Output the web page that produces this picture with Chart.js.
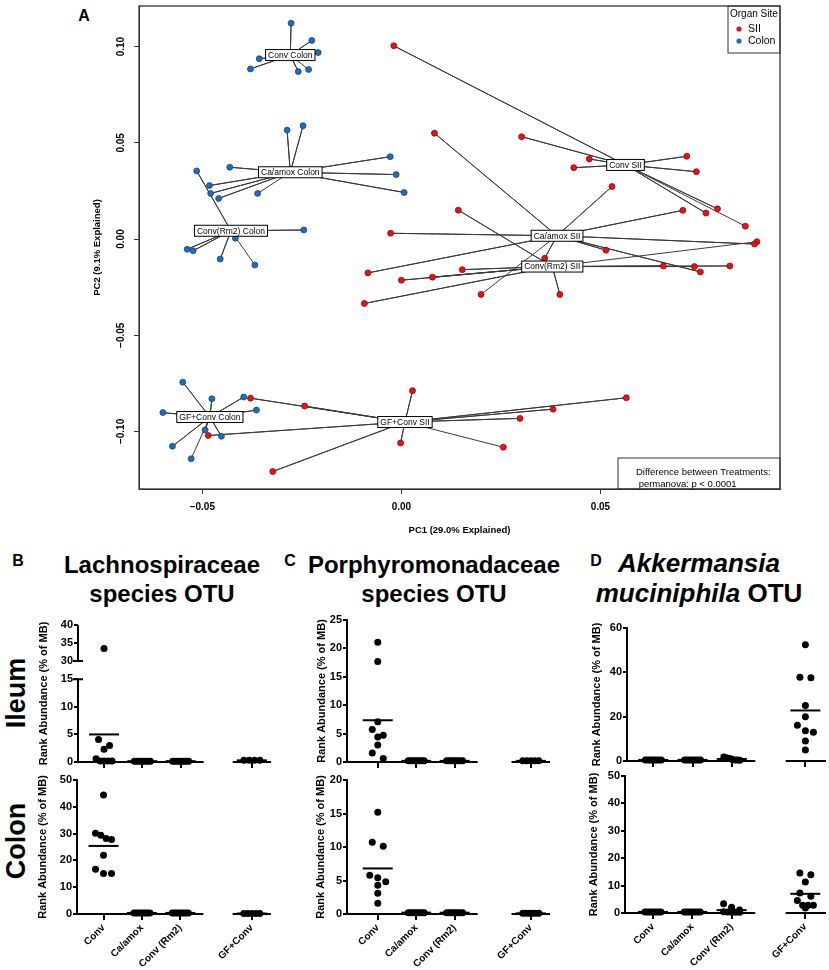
<!DOCTYPE html>
<html>
<head>
<meta charset="utf-8">
<script src="https://cdn.jsdelivr.net/npm/chart.js@4.4.1/dist/chart.umd.min.js"></script>
<style>
  body { margin: 0; background: #fff; }
  #wrap { position: relative; width: 829px; height: 970px; overflow: hidden; font-family: "Liberation Sans", Arial, sans-serif; color: #000; }
  canvas { position: absolute; }
  .ltr { position: absolute; font-weight: bold; font-size: 16px; line-height: 1; transform: translate(-50%, -50%); }
  .ttl { position: absolute; transform: translateX(-50%); text-align: center; font-weight: bold; white-space: nowrap; }
  .rot { position: absolute; font-weight: bold; font-size: 27px; line-height: 1; white-space: nowrap; transform: translate(-50%, -50%) rotate(-90deg); }
</style>
</head>
<body>
<div id="wrap">
  <div class="ltr" style="left:84px;top:16px">A</div>
  <div class="ltr" style="left:18px;top:561px">B</div>
  <div class="ltr" style="left:290px;top:561px">C</div>
  <div class="ltr" style="left:596px;top:561px">D</div>
  <div class="ttl" style="left:162px;top:550px;font-size:24px;line-height:29px">Lachnospiraceae<br>species OTU</div>
  <div class="ttl" style="left:434px;top:550px;font-size:24px;line-height:29px">Porphyromonadaceae<br>species OTU</div>
  <div class="ttl" style="left:699px;top:548px;font-size:26px;line-height:30px"><i>Akkermansia</i><br><i>muciniphila</i> OTU</div>
  <div class="rot" style="left:16px;top:693px">Ileum</div>
  <div class="rot" style="left:16px;top:841px">Colon</div>
</div>
<script>
// ---------- panel A: PCoA coordinates ----------
const pcaGroups = ['Conv Colon', 'Ca/amox Colon', 'Conv(Rm2) Colon', 'GF+Conv Colon',
                   'Conv SII', 'Ca/amox SII', 'Conv(Rm2) SII', 'GF+Conv SII'];
const pcaSite = ['Colon', 'Colon', 'Colon', 'Colon', 'SII', 'SII', 'SII', 'SII'];
const centroidX = [-0.0279, -0.0279, -0.0428, -0.0481, 0.0563, 0.0391, 0.0379, 0.0009];
const centroidY = [0.0956, 0.0347, 0.0043, -0.0925, 0.0385, 0.0017, -0.0143, -0.0951];

const convColon = [[-0.0277, 0.1122], [-0.0225, 0.1032], [-0.0209, 0.0969], [-0.0357, 0.0937],
                   [-0.0379, 0.0884], [-0.0259, 0.0870], [-0.0233, 0.0881]];
const caamoxColon = [[-0.0287, 0.0566], [-0.0247, 0.0589], [-0.0028, 0.0428], [-0.0013, 0.0335],
                     [0.0007, 0.0242], [-0.0431, 0.0373], [-0.0482, 0.0278], [-0.0479, 0.0237],
                     [-0.0459, 0.0211], [-0.0361, 0.0237]];
const rm2Colon = [[-0.0514, 0.0354], [-0.0245, 0.0047], [-0.0417, 0.0004], [-0.0538, -0.0053],
                  [-0.0523, -0.0061], [-0.0455, -0.0104], [-0.0368, -0.0135]];
const gfColon = [[-0.0549, -0.0744], [-0.0476, -0.0830], [-0.0396, -0.0821], [-0.0364, -0.0889],
                 [-0.0599, -0.0902], [-0.0493, -0.0992], [-0.0452, -0.1025], [-0.0575, -0.1077],
                 [-0.0528, -0.1142]];
const convSII = [[-0.0019, 0.1004], [0.0302, 0.0532], [0.0472, 0.0416], [0.0433, 0.0371],
                 [0.0717, 0.0430], [0.0741, 0.0350], [0.0794, 0.0157], [0.0765, 0.0135],
                 [0.0864, 0.0067]];
const caamoxSII = [[0.0083, 0.0550], [0.0529, 0.0273], [0.0707, 0.0149], [0.0887, -0.0026],
                   [-0.0027, 0.0030], [-0.0084, -0.0176], [0.0514, -0.0058], [0.0751, -0.0171],
                   [0.0360, -0.0100], [0.0200, -0.0288]];
const rm2SII = [[0.0143, 0.0150], [0.0153, -0.0159], [0.0078, -0.0198], [0.0000, -0.0214],
                [-0.0093, -0.0335], [0.0398, -0.0288], [0.0658, -0.0140], [0.0736, -0.0143],
                [0.0825, -0.0140], [0.0893, -0.0014]];
const gfSII = [[-0.0379, -0.0827], [-0.0243, -0.0868], [-0.0485, -0.1021], [-0.0323, -0.1208],
               [0.0028, -0.0788], [-0.0002, -0.1060], [0.0565, -0.0825], [0.0381, -0.0884],
               [0.0298, -0.0932], [0.0256, -0.1082]];
const pcaPoints = [convColon, caamoxColon, rm2Colon, gfColon, convSII, caamoxSII, rm2SII, gfSII];
const pcaXTicks = [-0.05, 0, 0.05];
const pcaYTicks = [-0.10, -0.05, 0, 0.05, 0.10];

// ---------- panels B-D: rank abundance (% of MB) ----------
const categories = ['Conv', 'Ca/amox', 'Conv (Rm2)', 'GF+Conv'];

const lachIleum = [[33.5, 4.1, 3.0, 2.3, 0.6, 0.2, 0.2, 0.2, 0.2],
                   [0.15, 0.15, 0.15, 0.15, 0.15, 0.15, 0.15, 0.15],
                   [0.15, 0.15, 0.15, 0.15, 0.15, 0.15, 0.15, 0.15],
                   [0.3, 0.3, 0.3, 0.3]];
const lachIleumMean = [5.0, 0.15, 0.15, 0.3];
const lachIleumTicks = [0, 5, 10, 15, 30, 35, 40];

const lachColon = [[44.4, 30.1, 29.4, 28.2, 27.8, 21.9, 16.7, 15.1, 15.1],
                   [0.4, 0.4, 0.4, 0.4, 0.4, 0.4, 0.4, 0.4],
                   [0.4, 0.4, 0.4, 0.4, 0.4, 0.4, 0.4, 0.4],
                   [0.2, 0.2, 0.2, 0.2, 0.2]];
const lachColonMean = [25.4, 0.4, 0.4, 0.2];
const lachColonTicks = [0, 10, 20, 30, 40, 50];

const porIleum = [[21.1, 17.7, 7.1, 5.7, 4.7, 4.4, 3.0, 1.6, 0.6],
                  [0.2, 0.2, 0.2, 0.2, 0.2, 0.2, 0.2, 0.2],
                  [0.2, 0.2, 0.2, 0.2, 0.2, 0.2, 0.2, 0.2],
                  [0.2, 0.2, 0.2, 0.2, 0.2]];
const porIleumMean = [7.35, 0.2, 0.2, 0.2];
const porIleumTicks = [0, 5, 10, 15, 20, 25];

const porColon = [[15.2, 10.7, 10.1, 5.8, 5.4, 4.8, 4.3, 3.1, 1.6],
                  [0.2, 0.2, 0.2, 0.2, 0.2, 0.2, 0.2, 0.2],
                  [0.2, 0.2, 0.2, 0.2, 0.2, 0.2, 0.2, 0.2],
                  [0.1, 0.1, 0.1, 0.1, 0.1, 0.1]];
const porColonMean = [6.8, 0.2, 0.2, 0.1];
const porColonTicks = [0, 5, 10, 15, 20];

const akkIleum = [[0.5, 0.5, 0.5, 0.5, 0.5, 0.5, 0.5, 0.5],
                  [0.5, 0.5, 0.5, 0.5, 0.5, 0.5, 0.5, 0.5],
                  [1.8, 1.5, 1.2, 1.0, 0.6, 0.4, 0.4, 0.3],
                  [52.4, 37.8, 37.6, 25.0, 20.0, 16.1, 13.6, 13.0, 9.0, 5.0]];
const akkIleumMean = [0.5, 0.5, 0.9, 22.8];
const akkIleumTicks = [0, 20, 40, 60];

const akkColon = [[0.4, 0.4, 0.4, 0.4, 0.4, 0.4, 0.4, 0.4],
                  [0.4, 0.4, 0.4, 0.4, 0.4, 0.4, 0.4, 0.4],
                  [3.4, 2.1, 1.1, 0.5, 0.4, 0.3, 0.3, 0.3],
                  [14.6, 14.0, 11.3, 7.3, 6.1, 4.6, 2.8, 2.8, 2.8, 1.8]];
const akkColonMean = [0.4, 0.4, 1.05, 7.0];
const akkColonTicks = [0, 10, 20, 30, 40, 50];

// axis break for the Lachnospiraceae ileum plot (15 -> 30)
const BRK = { low: 15, high: 30, d1: 0.6036, d2: 0.7372 };

Chart.defaults.font.family = '"Liberation Sans", Arial, sans-serif';
Chart.defaults.color = '#000';

class BrokenLinear extends Chart.LinearScale {
  getPixelForValue(value) {
    if (value === null || value === undefined || isNaN(value)) return NaN;
    let dec;
    if (value <= BRK.low) dec = (value - this.min) / (BRK.low - this.min) * BRK.d1;
    else if (value >= BRK.high) dec = BRK.d2 + (value - BRK.high) / (this.max - BRK.high) * (1 - BRK.d2);
    else dec = BRK.d1 + (value - BRK.low) / (BRK.high - BRK.low) * (BRK.d2 - BRK.d1);
    return this.getPixelForDecimal(dec);
  }
}
BrokenLinear.id = 'brokenLinear';
BrokenLinear.defaults = Chart.LinearScale.defaults;
Chart.register(BrokenLinear);

function addCanvas(left, top, w, h) {
  const c = document.createElement('canvas');
  c.width = Math.round(w);
  c.height = Math.round(h);
  c.style.left = Math.round(left) + 'px';
  c.style.top = Math.round(top) + 'px';
  document.getElementById('wrap').appendChild(c);
  return c;
}

// ---------- panel A ----------
const RED = '#e3121b', BLUE = '#1f6db6';

function drawPCA() {
  const canvas = addCanvas(0, 0, 829, 545);
  const datasets = [];
  pcaPoints.forEach((pts, g) => {
    const colon = pcaSite[g] === 'Colon';
    datasets.push({
      data: pts.map(p => ({ x: p[0], y: p[1] })),
      backgroundColor: colon ? BLUE : RED,
      borderColor: colon ? '#0f3f70' : '#8a0000',
      borderWidth: 0.7, pointRadius: 3, clip: false, order: 0
    });
    const spider = [];
    pts.forEach(p => {
      spider.push({ x: centroidX[g], y: centroidY[g] });
      spider.push({ x: p[0], y: p[1] });
    });
    datasets.push({
      data: spider, showLine: true, pointRadius: 0, borderColor: '#3a3a3a',
      borderWidth: 1, borderJoinStyle: 'round', tension: 0, order: 1
    });
  });

  const pcaDecor = {
    id: 'pcaDecor',
    afterDatasetsDraw(chart) {
      const { ctx, scales: { x, y } } = chart;
      ctx.save();
      ctx.font = '8.5px "Liberation Sans", Arial, sans-serif';
      ctx.textAlign = 'center';
      ctx.textBaseline = 'middle';
      pcaGroups.forEach((name, g) => {
        const px = x.getPixelForValue(centroidX[g]);
        const py = y.getPixelForValue(centroidY[g]);
        const w = ctx.measureText(name).width + 5;
        const h = 11;
        ctx.fillStyle = '#fff';
        ctx.fillRect(px - w / 2, py - h / 2, w, h);
        ctx.strokeStyle = '#000';
        ctx.lineWidth = 1;
        ctx.strokeRect(px - w / 2, py - h / 2, w, h);
        ctx.fillStyle = '#000';
        ctx.fillText(name, px, py + 0.5);
      });
      ctx.restore();
    },
    afterDraw(chart) {
      const { ctx, chartArea: a } = chart;
      ctx.save();
      // legend box
      const lw = 52, lh = 47;
      ctx.fillStyle = '#fff';
      ctx.fillRect(a.right - lw, a.top, lw, lh);
      ctx.strokeStyle = '#333';
      ctx.lineWidth = 1;
      ctx.strokeRect(a.right - lw, a.top, lw, lh);
      ctx.fillStyle = '#000';
      ctx.textBaseline = 'middle';
      ctx.textAlign = 'left';
      ctx.font = '10px "Liberation Sans", Arial, sans-serif';
      ctx.fillText('Organ Site', a.right - lw + 2, a.top + 8);
      ctx.font = '10.5px "Liberation Sans", Arial, sans-serif';
      [['SII', RED], ['Colon', BLUE]].forEach((it, i) => {
        const cy = a.top + 23 + i * 12;
        ctx.beginPath();
        ctx.arc(a.right - lw + 11, cy, 2.6, 0, Math.PI * 2);
        ctx.fillStyle = it[1];
        ctx.fill();
        ctx.fillStyle = '#000';
        ctx.fillText(it[0], a.right - lw + 20, cy);
      });
      // permanova box
      const bw = 162, bh = 31;
      ctx.fillStyle = '#fff';
      ctx.fillRect(a.right - bw, a.bottom - bh, bw, bh);
      ctx.strokeStyle = '#333';
      ctx.strokeRect(a.right - bw, a.bottom - bh, bw, bh);
      ctx.fillStyle = '#000';
      ctx.font = '9.5px "Liberation Sans", Arial, sans-serif';
      ctx.fillText('Difference between Treatments:', a.right - bw + 18, a.bottom - 17);
      ctx.fillText(' permanova: p < 0.0001', a.right - bw + 18, a.bottom - 5);
      // plot frame
      ctx.strokeStyle = '#333';
      ctx.lineWidth = 1.3;
      ctx.strokeRect(a.left, a.top, a.right - a.left, a.bottom - a.top);
      ctx.restore();
    }
  };

  const fmt = v => (v < 0 ? '\u2212' : '') + Math.abs(v).toFixed(2);
  new Chart(canvas, {
    type: 'scatter',
    data: { datasets },
    options: {
      responsive: false, animation: false, events: [],
      layout: { padding: { left: 0, top: 4, right: 49, bottom: 0 }, autoPadding: false },
      plugins: { legend: { display: false }, tooltip: { enabled: false } },
      scales: {
        x: {
          type: 'linear', min: -0.0659, max: 0.0951,
          afterBuildTicks: ax => { ax.ticks = pcaXTicks.map(v => ({ value: v })); },
          afterFit: ax => { ax.height = 56; },
          border: { display: true, color: '#333', width: 1 },
          grid: { drawOnChartArea: false, drawTicks: true, tickLength: 5, color: '#333' },
          ticks: { padding: 7, font: { size: 10, weight: 'bold' }, color: '#000', callback: fmt },
          title: { display: true, text: 'PC1 (29.0% Explained)', color: '#000',
                   font: { size: 9.5, weight: 'bold' }, padding: { top: 0, bottom: 9 } }
        },
        y: {
          type: 'linear', min: -0.1299, max: 0.1211,
          afterBuildTicks: ax => { ax.ticks = pcaYTicks.map(v => ({ value: v })); },
          afterFit: ax => { ax.width = 139; },
          border: { display: true, color: '#333', width: 1 },
          grid: { drawOnChartArea: false, drawTicks: true, tickLength: 5, color: '#333' },
          ticks: { padding: 0, minRotation: 90, maxRotation: 90, crossAlign: 'center',
                   font: { size: 10, weight: 'bold' }, color: '#000', callback: fmt },
          title: { display: true, text: 'PC2 (9.1% Explained)', color: '#000',
                   font: { size: 9.5, weight: 'bold' }, padding: { top: 92, bottom: 0 } }
        }
      }
    },
    plugins: [pcaDecor]
  });
}

// ---------- dot plots ----------
// spreads points that would overlap sideways, like GraphPad's scatter dot plot
function swarm(vals, pxY, pxX) {
  const idx = vals.map((v, i) => i).sort((a, b) => vals[b] - vals[a]);
  const offs = new Array(vals.length).fill(0);
  let i = 0;
  while (i < idx.length) {
    let j = i + 1;
    while (j < idx.length && (vals[idx[i]] - vals[idx[j]]) * pxY < 7) j++;
    const n = j - i;
    const step = n > 1 ? Math.min(11, 16 / (n - 1)) : 0;
    for (let k = 0; k < n; k++) offs[idx[i + k]] = (k - (n - 1) / 2) * step / pxX;
    i = j;
  }
  return offs;
}

function dotPlot(p) {
  const yw = 62, padTop = 8, padRight = 6;
  const xh = p.labels ? 57 : 12;
  const plotW = p.right - p.axisX, plotH = p.bottom - p.top;
  const canvas = addCanvas(p.axisX - yw, p.top - padTop, yw + plotW + padRight, padTop + plotH + xh);
  const catX = [0, 1, 2, p.gf];
  const pxX = plotW / (p.xMax - p.xMin);
  const pxY = p.broken ? plotH * BRK.d1 / BRK.low : plotH / p.yMax;
  const datasets = [];
  p.groups.forEach((vals, g) => {
    const offs = swarm(vals, pxY, pxX);
    datasets.push({
      data: vals.map((v, i) => ({ x: catX[g] + offs[i], y: v })),
      backgroundColor: '#000', borderWidth: 0, pointRadius: 3.5, clip: false, order: 0
    });
    const half = 15 / pxX;
    datasets.push({
      data: [{ x: catX[g] - half, y: p.means[g] }, { x: catX[g] + half, y: p.means[g] }],
      showLine: true, borderColor: '#000', borderWidth: 2, pointRadius: 0, clip: false, order: 1
    });
  });

  const axisSegs = {
    id: 'axisSegs',
    afterDraw(chart) {
      const { ctx, chartArea: a, scales: { x, y } } = chart;
      ctx.save();
      ctx.strokeStyle = '#000';
      ctx.lineWidth = 2;
      ctx.beginPath();
      ctx.moveTo(a.left - 1, a.bottom);
      ctx.lineTo(x.getPixelForValue(2.6), a.bottom);
      ctx.moveTo(x.getPixelForValue(p.gf - 0.5), a.bottom);
      ctx.lineTo(a.right, a.bottom);
      if (p.broken) {
        const y15 = y.getPixelForValue(BRK.low), y30 = y.getPixelForValue(BRK.high);
        ctx.moveTo(a.left, a.bottom + 1); ctx.lineTo(a.left, y15);
        ctx.moveTo(a.left, y30); ctx.lineTo(a.left, a.top);
        ctx.moveTo(a.left - 5, y15); ctx.lineTo(a.left + 5, y15);
        ctx.moveTo(a.left - 5, y30); ctx.lineTo(a.left + 5, y30);
      }
      ctx.stroke();
      ctx.restore();
    }
  };

  new Chart(canvas, {
    type: 'scatter',
    data: { datasets },
    options: {
      responsive: false, animation: false, events: [],
      layout: { padding: { left: 0, top: padTop, right: padRight, bottom: 0 }, autoPadding: false },
      plugins: { legend: { display: false }, tooltip: { enabled: false } },
      scales: {
        x: {
          type: 'linear', min: p.xMin, max: p.xMax,
          afterBuildTicks: ax => { ax.ticks = catX.map(v => ({ value: v })); },
          afterFit: ax => { ax.height = xh; },
          border: { display: false },
          grid: { drawOnChartArea: false, drawTicks: true, tickLength: 6, color: '#000', lineWidth: 2 },
          ticks: { display: p.labels, autoSkip: false, minRotation: 45, maxRotation: 45, padding: 2,
                   font: { size: 10, weight: 'bold' }, color: '#000', callback: (v, i) => categories[i] }
        },
        y: {
          type: p.broken ? 'brokenLinear' : 'linear', min: 0, max: p.yMax,
          afterBuildTicks: ax => { ax.ticks = p.ticks.map(v => ({ value: v })); },
          afterFit: ax => { ax.width = yw; },
          border: { display: !p.broken, color: '#000', width: 2 },
          grid: { drawOnChartArea: false, drawTicks: true, tickLength: 4, color: '#000', lineWidth: 2 },
          ticks: { autoSkip: false, padding: 1, font: { size: 11, weight: 'bold' }, color: '#000',
                   callback: v => String(v) },
          title: { display: true, text: 'Rank Abundance (% of MB)', color: '#000',
                   font: { size: 11, weight: 'bold' }, padding: { top: yw - p.titleDx - 6.6, bottom: 0 } }
        }
      }
    },
    plugins: [axisSegs]
  });
}

drawPCA();

dotPlot({ axisX: 78, right: 271, top: 625, bottom: 762, xMin: -0.68, gf: 3.86, xMax: 4.36,
          yMax: 40, ticks: lachIleumTicks, groups: lachIleum, means: lachIleumMean,
          labels: false, titleDx: 34, broken: true });
dotPlot({ axisX: 77, right: 271, top: 780, bottom: 914, xMin: -0.69, gf: 3.86, xMax: 4.36,
          yMax: 50, ticks: lachColonTicks, groups: lachColon, means: lachColonMean,
          labels: true, titleDx: 34 });
dotPlot({ axisX: 347, right: 550, top: 620, bottom: 762, xMin: -0.8, gf: 3.98, xMax: 4.48,
          yMax: 25, ticks: porIleumTicks, groups: porIleum, means: porIleumMean,
          labels: false, titleDx: 25 });
dotPlot({ axisX: 347, right: 550, top: 780, bottom: 914, xMin: -0.8, gf: 3.98, xMax: 4.48,
          yMax: 20, ticks: porColonTicks, groups: porColon, means: porColonMean,
          labels: true, titleDx: 26 });
dotPlot({ axisX: 627, right: 826, top: 628, bottom: 761, xMin: -0.67, gf: 3.875, xMax: 4.4,
          yMax: 60, ticks: akkIleumTicks, groups: akkIleum, means: akkIleumMean,
          labels: false, titleDx: 30 });
dotPlot({ axisX: 625, right: 826, top: 776, bottom: 913, xMin: -0.71, gf: 3.875, xMax: 4.4,
          yMax: 50, ticks: akkColonTicks, groups: akkColon, means: akkColonMean,
          labels: true, titleDx: 31 });
</script>
</body>
</html>
